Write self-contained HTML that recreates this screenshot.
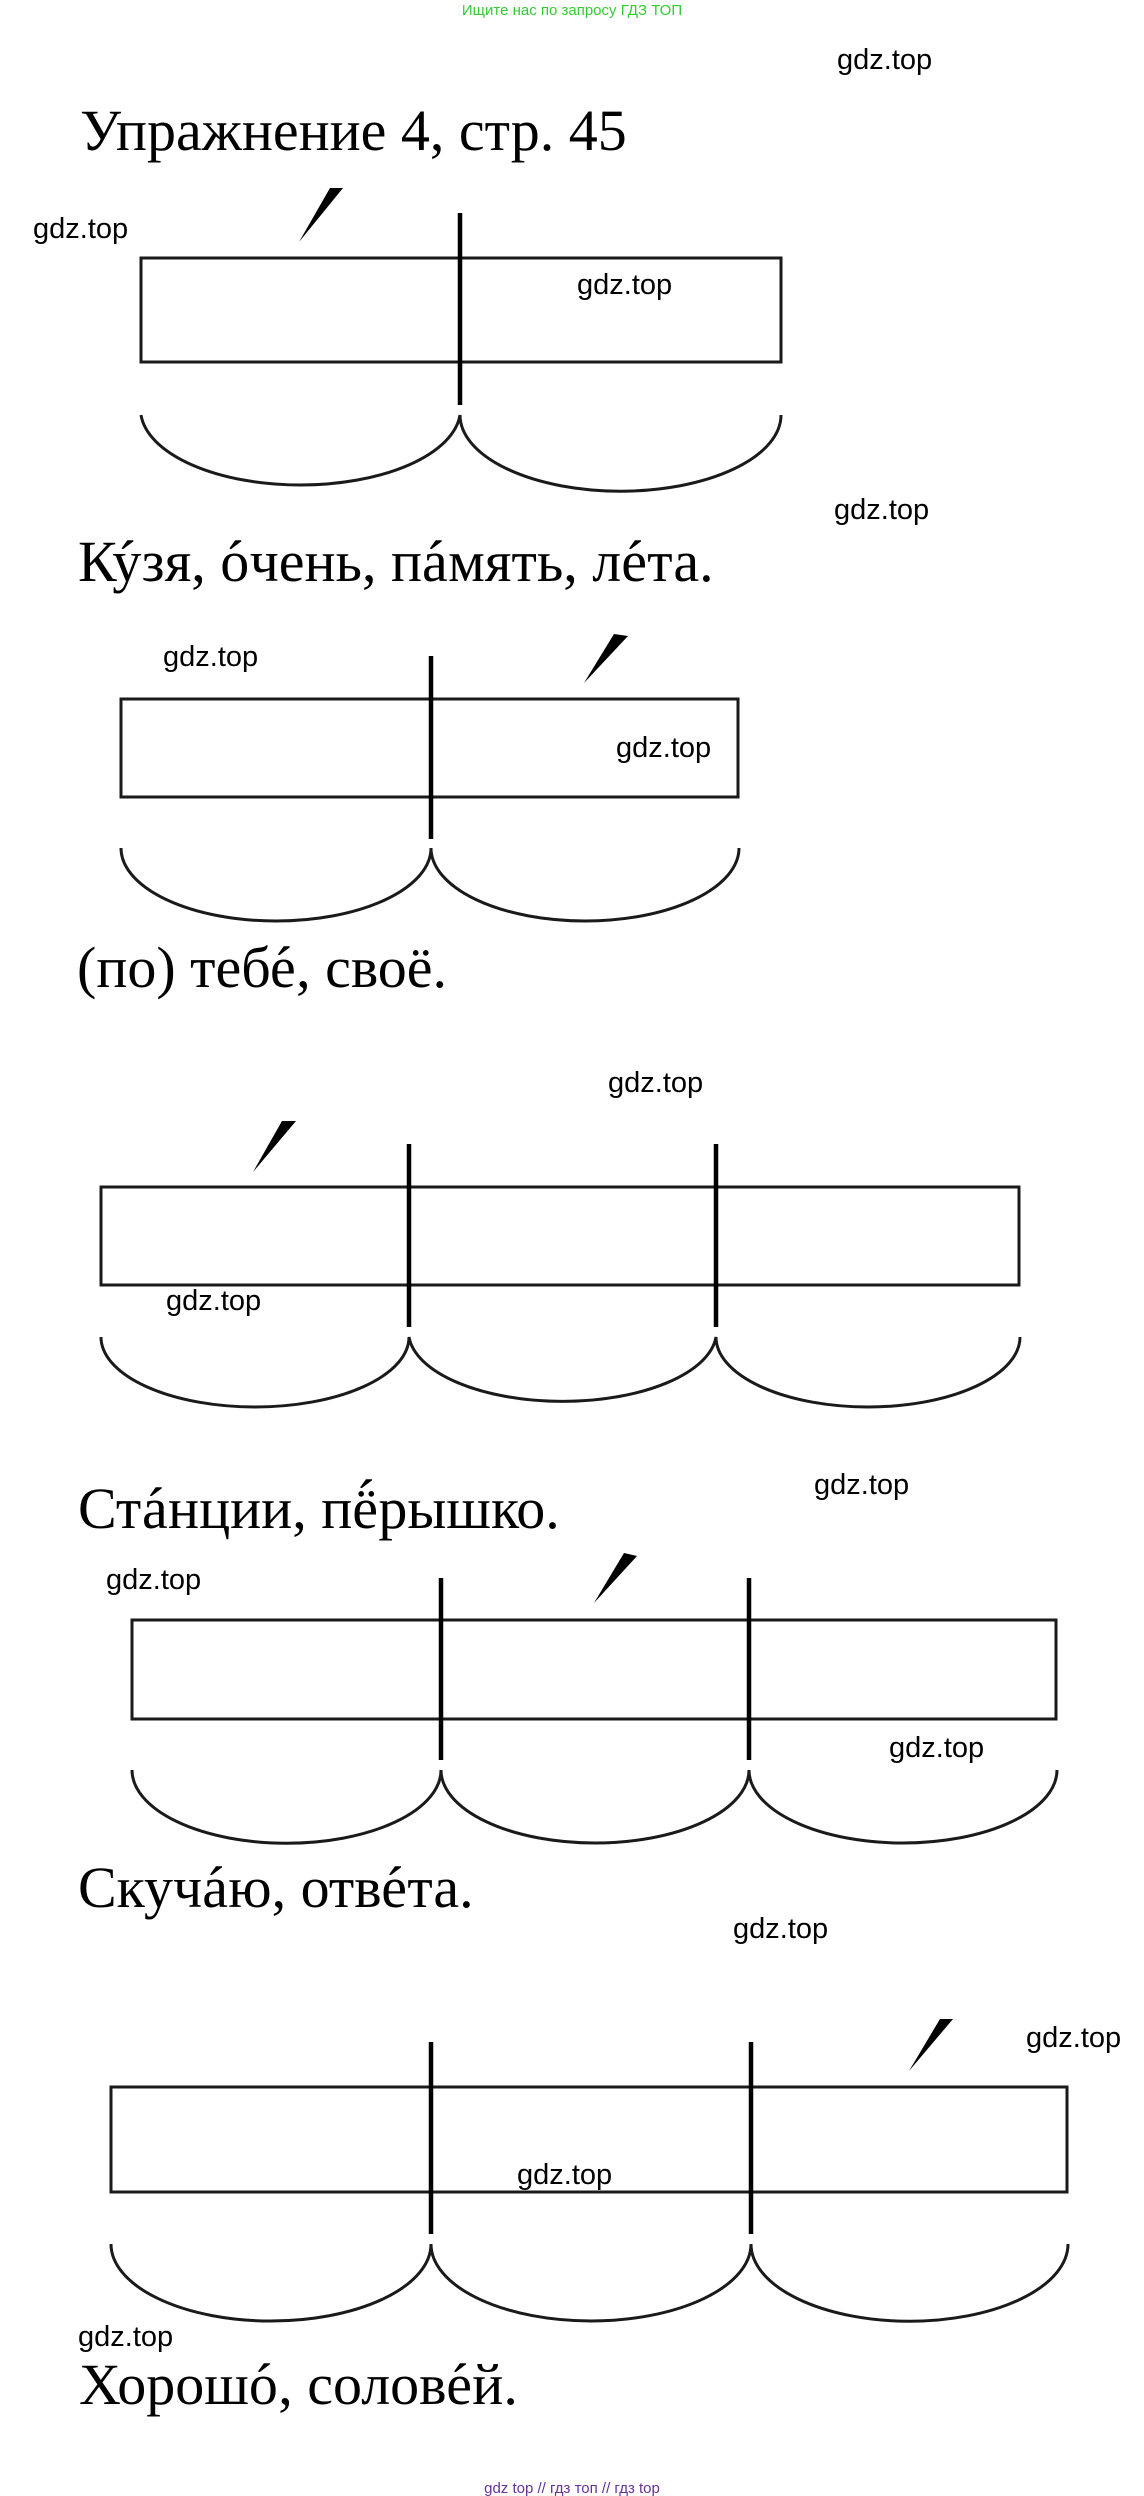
<!DOCTYPE html>
<html><head><meta charset="utf-8"><style>
html,body{margin:0;padding:0;background:#fff;}
svg{display:block;}
.w{font-family:"Liberation Sans",Arial,sans-serif;font-size:29px;fill:#000;}
.t{font-family:"Liberation Serif","Times New Roman",serif;font-size:58px;fill:#000;}
.r{fill:none;stroke:#1a1a1a;stroke-width:3;}
.v{stroke:#000;stroke-width:4.5;}
.a{fill:none;stroke:#1a1a1a;stroke-width:3;}
</style></head><body>
<svg width="1144" height="2496" viewBox="0 0 1144 2496" xmlns="http://www.w3.org/2000/svg">
<text x="572" y="15" text-anchor="middle" font-family="Liberation Sans, Arial, sans-serif" font-size="15" fill="#33cc33">Ищите нас по запросу ГДЗ ТОП</text>
<text class="w" x="837" y="69">gdz.top</text>
<text class="t" x="80" y="150">Упражнение 4, стр. 45</text>
<text class="w" x="33" y="238">gdz.top</text>
<polygon points="330,188 343,188 299,242" fill="#000"/>
<rect class="r" x="141" y="258" width="640" height="104"/>
<line class="v" x1="460" y1="213" x2="460" y2="405"/>
<path class="a" d="M141,415 A160,76 0 0 0 460,415 A160,76 0 0 0 781,415"/>
<text class="w" x="577" y="294">gdz.top</text>
<text class="w" x="834" y="519">gdz.top</text>
<text class="t" x="78" y="581">Ку<tspan dx="-24">´</tspan><tspan dx="5">зя, о</tspan><tspan dx="-24">´</tspan><tspan dx="5">чень, па</tspan><tspan dx="-22">´</tspan><tspan dx="3">мять, ле</tspan><tspan dx="-22">´</tspan><tspan dx="3">та.</tspan></text>

<text class="w" x="163" y="666">gdz.top</text>
<polygon points="614,634 628,636 584,683" fill="#000"/>
<rect class="r" x="121" y="699" width="617" height="98"/>
<line class="v" x1="431" y1="656" x2="431" y2="839"/>
<path class="a" d="M121,848 A155,73 0 0 0 431,848 A154,73 0 0 0 739,848"/>
<text class="w" x="616" y="757">gdz.top</text>
<text class="t" x="77" y="987">(по) тебе<tspan dx="-22">´</tspan><tspan dx="3">, своё.</tspan></text>
<text class="w" x="608" y="1092">gdz.top</text>

<polygon points="282,1121 296,1121 253,1172" fill="#000"/>
<rect class="r" x="101" y="1187" width="918" height="98"/>
<line class="v" x1="409" y1="1144" x2="409" y2="1327"/>
<line class="v" x1="716" y1="1144" x2="716" y2="1327"/>
<path class="a" d="M101,1337 A154,70 0 0 0 409,1337 A154,70 0 0 0 716,1337 A152,70 0 0 0 1020,1337"/>
<text class="w" x="166" y="1310">gdz.top</text>
<text class="w" x="814" y="1494">gdz.top</text>
<text class="t" x="78" y="1528">Ста<tspan dx="-22">´</tspan><tspan dx="3">нции, пё</tspan><tspan dx="-22" dy="-8">´</tspan><tspan dx="3" dy="8">рышко.</tspan></text>

<text class="w" x="106" y="1589">gdz.top</text>
<polygon points="624,1553 637,1556 594,1603" fill="#000"/>
<rect class="r" x="132" y="1620" width="924" height="99"/>
<line class="v" x1="441" y1="1578" x2="441" y2="1760"/>
<line class="v" x1="749" y1="1578" x2="749" y2="1760"/>
<path class="a" d="M132,1770 A154,73 0 0 0 441,1770 A154,73 0 0 0 749,1770 A154,73 0 0 0 1057,1770"/>
<text class="w" x="889" y="1757">gdz.top</text>
<text class="t" x="78" y="1907">Скуча<tspan dx="-22">´</tspan><tspan dx="3">ю, отве</tspan><tspan dx="-22">´</tspan><tspan dx="3">та.</tspan></text>
<text class="w" x="733" y="1938">gdz.top</text>

<polygon points="940,2019 953,2019 909,2071" fill="#000"/>
<text class="w" x="1026" y="2047">gdz.top</text>
<rect class="r" x="111" y="2087" width="956" height="105"/>
<line class="v" x1="431" y1="2042" x2="431" y2="2234"/>
<line class="v" x1="751" y1="2042" x2="751" y2="2234"/>
<path class="a" d="M111,2244 A160,77 0 0 0 431,2244 A160,77 0 0 0 751,2244 A158,77 0 0 0 1068,2244"/>
<text class="w" x="517" y="2184">gdz.top</text>
<text class="w" x="78" y="2346">gdz.top</text>
<text class="t" x="79" y="2404">Хорошо<tspan dx="-24">´</tspan><tspan dx="5">, солове</tspan><tspan dx="-22">´</tspan><tspan dx="3">й.</tspan></text>
<text x="572" y="2493" text-anchor="middle" font-family="Liberation Sans, Arial, sans-serif" font-size="15" fill="#663399">gdz top  //  гдз топ  //  гдз top</text>
</svg>
</body></html>
